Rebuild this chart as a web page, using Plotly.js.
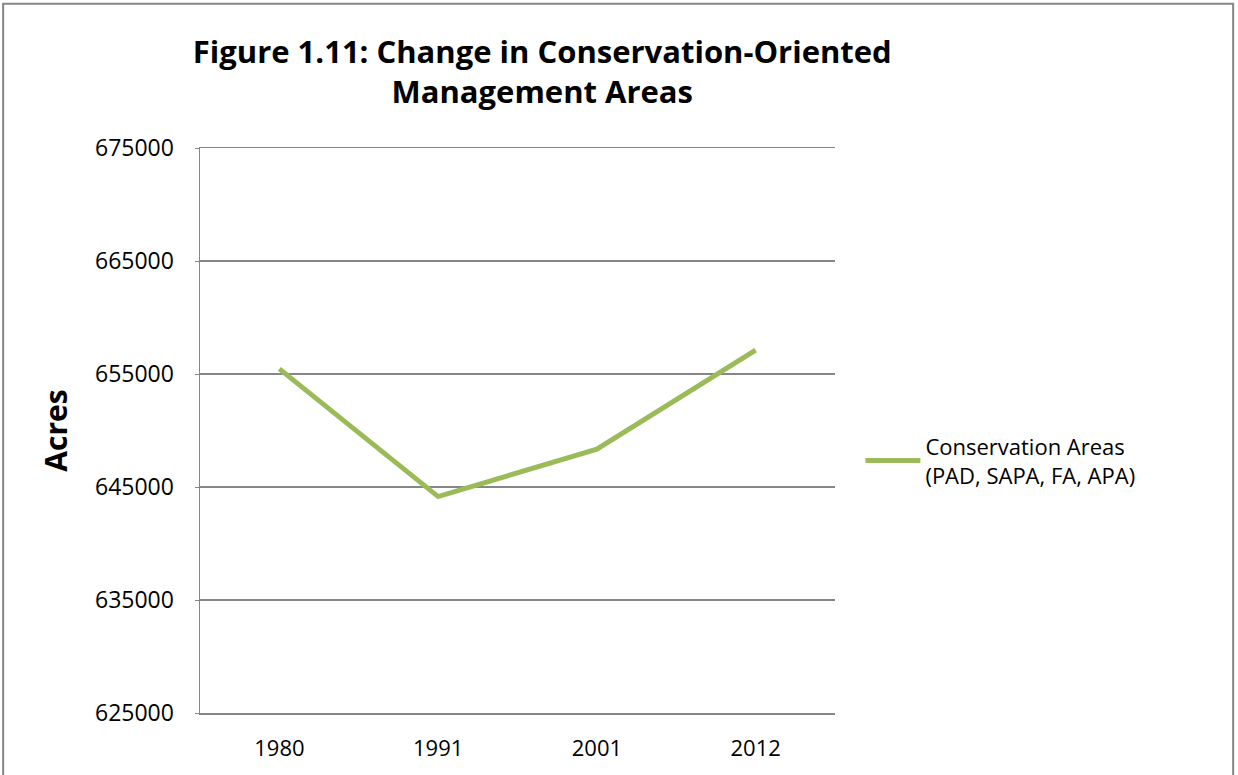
<!DOCTYPE html>
<html><head><meta charset="utf-8">
<script src="https://cdn.plot.ly/plotly-3.0.1.min.js"></script>
<style>html,body{margin:0;padding:0;background:#fff}#chart{width:1238px;height:775px}</style>
</head><body><div id="chart"></div>
<script>
const years = ['1980', '1991', '2001', '2012'];
const conservationAcres = [655450, 644150, 648350, 657120];
const seriesName = 'Conservation Areas<br>(PAD, SAPA, FA, APA)';
const yTicks = [625000, 635000, 645000, 655000, 665000, 675000];

const font = "'Open Sans', 'Noto Sans', sans-serif";

Plotly.newPlot('chart', [{
  x: years, y: conservationAcres, type: 'scatter', mode: 'lines',
  name: seriesName, line: {color: '#9BBB59', width: 5}
}], {
  width: 1238, height: 775,
  margin: {l: 200, r: 403, t: 148, b: 62},
  paper_bgcolor: '#fff', plot_bgcolor: '#fff',
  font: {family: font, color: '#000'},
  showlegend: true,
  title: {text: '<b>Figure 1.11: Change in Conservation-Oriented<br>Management Areas</b>',
    font: {family: font, size: 31, color: '#000'},
    x: 0.539, xref: 'paper', xanchor: 'center', y: 0.919, yref: 'container', yanchor: 'middle'},
  xaxis: {type: 'category', range: [-0.5, 3.5], tickfont: {size: 22}, showgrid: false, zeroline: false,
    showline: true, mirror: true, linecolor: '#868686', linewidth: 1.5, ticks: '', ticklabelstandoff: 15},
  yaxis: {range: [625000, 675000], tickvals: yTicks, ticktext: yTicks.map(String),
    tickfont: {size: 23}, showgrid: true, gridcolor: '#868686', gridwidth: 1.5,
    zeroline: false, showline: true, linecolor: '#868686', linewidth: 1.5,
    ticks: 'outside', ticklen: 4, tickcolor: '#868686', ticklabelstandoff: 16,
    title: {text: '<b>Acres</b>', font: {size: 30}, standoff: 18}},
  legend: {x: 1.04, xanchor: 'left', y: 0.446, yanchor: 'middle',
    font: {size: 22}, bgcolor: 'rgba(0,0,0,0)', itemwidth: 55},
  shapes: [{type: 'rect', xref: 'paper', yref: 'paper',
    x0: -0.310, x1: 1.627, y0: -0.3, y1: 1.2555,
    line: {color: '#868686', width: 2}, fillcolor: 'rgba(0,0,0,0)', layer: 'below'}]
}, {displayModeBar: false, staticPlot: true});
</script></body></html>
